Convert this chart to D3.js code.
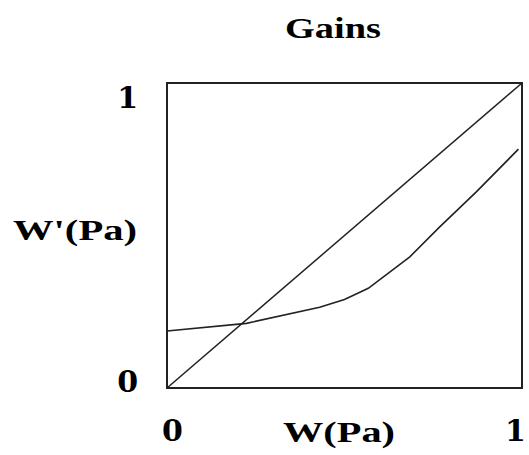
<!DOCTYPE html>
<html>
<head>
<meta charset="utf-8">
<script src="https://cdn.jsdelivr.net/npm/d3@7"></script>
<style>
  html, body { margin: 0; padding: 0; background: #fff; }
</style>
</head>
<body>
<svg id="chart" width="529" height="455"></svg>
<script>
// Input pressure W(Pa) and resulting W'(Pa) for the gain curve
const wIn = [0, 0.224, 0.43, 0.5, 0.567, 0.684, 0.769, 0.872, 0.99];
const wOut = [0.187, 0.212, 0.265, 0.29, 0.327, 0.43, 0.529, 0.644, 0.783];
// Identity reference line
const diagIn = [0, 1];
const diagOut = [0, 1];
// Axis ticks
const tickVals = [0, 1];
const tickLabels = ["0", "1"];

const DIGIT_FONT = "DejaVu Serif";
const WORD_FONT = "Liberation Serif";

const svg = d3.select("#chart");
const plotL = 167, plotR = 522, plotT = 83, plotB = 388;

const x = d3.scaleLinear().domain([0, 1]).range([plotL, plotR]);
const y = d3.scaleLinear().domain([0, 1]).range([plotB, plotT]);

function styleText(sel, size, fam) {
  return sel.attr("font-family", fam)
    .style("font-family", fam)
    .attr("font-weight", "bold")
    .attr("font-size", size)
    .attr("fill", "#000");
}

// Title
styleText(svg.append("text"), 29, WORD_FONT)
  .attr("x", 333).attr("y", 38)
  .attr("text-anchor", "middle")
  .attr("textLength", 96).attr("lengthAdjust", "spacingAndGlyphs")
  .text("Gains");

// Plot frame
svg.append("rect")
  .attr("x", plotL).attr("y", plotT)
  .attr("width", plotR - plotL).attr("height", plotB - plotT)
  .attr("fill", "none").attr("stroke", "#222").attr("stroke-width", 2);

const line = d3.line().x(d => x(d[0])).y(d => y(d[1]));

// Identity line
svg.append("path")
  .datum(d3.zip(diagIn, diagOut))
  .attr("d", line)
  .attr("fill", "none").attr("stroke", "#222").attr("stroke-width", 1.5);

// Gain curve
svg.append("path")
  .datum(d3.zip(wIn, wOut))
  .attr("d", line)
  .attr("fill", "none").attr("stroke", "#222").attr("stroke-width", 1.6);

// Y axis tick labels
const yAxis = d3.axisLeft(y).tickValues(tickVals)
  .tickFormat((d, i) => tickLabels[i]).tickSize(0).tickPadding(0);
const gy = svg.append("g").attr("transform", `translate(${plotL - 29},0)`).call(yAxis);
gy.select(".domain").remove();
styleText(gy.selectAll("text"), 30, DIGIT_FONT)
  .attr("dy", (d) => d === 1 ? "0.82em" : "0.1em");

// X axis tick labels
const xAxis = d3.axisBottom(x).tickValues(tickVals)
  .tickFormat((d, i) => tickLabels[i]).tickSize(0).tickPadding(0);
const gx = svg.append("g").attr("transform", `translate(0,${plotB + 32})`).call(xAxis);
gx.select(".domain").remove();
styleText(gx.selectAll("text"), 30, DIGIT_FONT)
  .attr("dx", (d) => d === 0 ? 5 : -7);

// Axis titles
styleText(svg.append("text"), 30, WORD_FONT)
  .attr("x", 13).attr("y", 240)
  .attr("textLength", 124).attr("lengthAdjust", "spacingAndGlyphs")
  .text("W'(Pa)");

styleText(svg.append("text"), 30, WORD_FONT)
  .attr("x", 283).attr("y", 442)
  .attr("textLength", 112).attr("lengthAdjust", "spacingAndGlyphs")
  .text("W(Pa)");
</script>
</body>
</html>
